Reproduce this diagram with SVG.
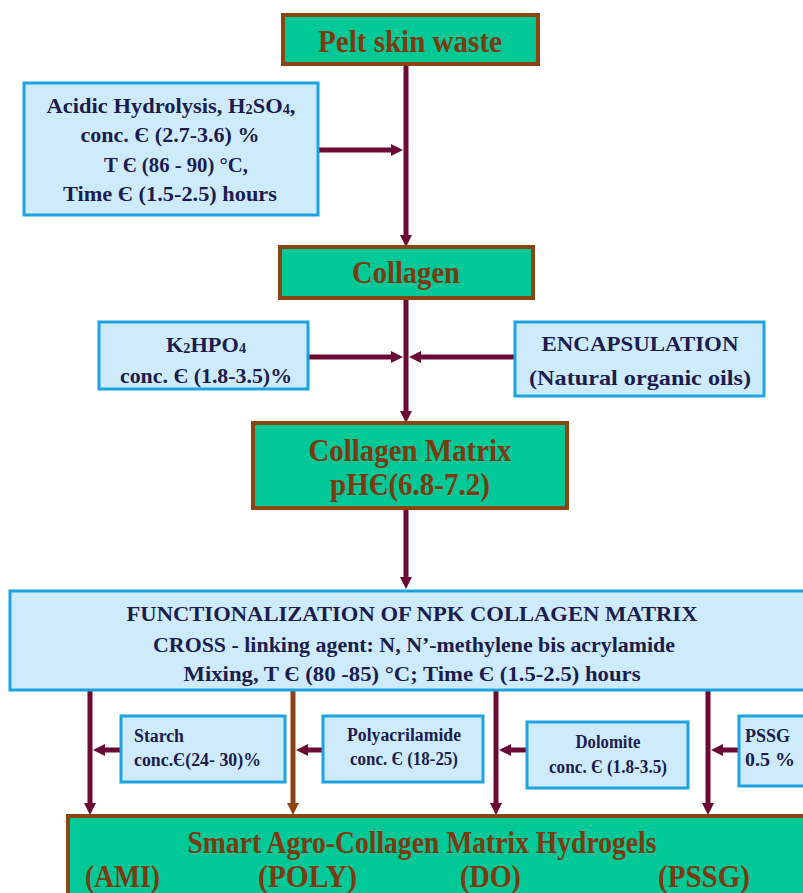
<svg xmlns="http://www.w3.org/2000/svg" width="803" height="893" viewBox="0 0 803 893">
<style>
text{font-family:"Liberation Serif","Times New Roman",serif;font-weight:bold}
.g rect{fill:#00c896;stroke:#8b4513;stroke-width:4}
.b rect{fill:#cdebfb;stroke:#1fa3e0;stroke-width:3}
.gt{fill:#7b3a10;font-size:31px}
.bt{fill:#1c1c4e;font-size:22px}
.st{fill:#1c1c4e;font-size:18px}
.m{text-anchor:middle}
.c{fill:none;stroke:#6b0a32;stroke-width:5}
.cb{fill:none;stroke:#8b4513;stroke-width:5}
</style>
<defs>
<marker id="am" viewBox="0 0 12 12" refX="4" refY="6" markerWidth="12" markerHeight="12" markerUnits="userSpaceOnUse" orient="auto"><path d="M0,0L12,6L0,12z" fill="#6b0a32"/></marker>
<marker id="ab" viewBox="0 0 12 12" refX="4" refY="6" markerWidth="12" markerHeight="12" markerUnits="userSpaceOnUse" orient="auto"><path d="M0,0L12,6L0,12z" fill="#8b4513"/></marker>
</defs>
<rect width="803" height="893" fill="#fff"/>
<g id="connectors">
<path class="c" d="M406,65V239" marker-end="url(#am)"/>
<path class="c" d="M318,150H395" marker-end="url(#am)"/>
<path class="c" d="M406,298V415" marker-end="url(#am)"/>
<path class="c" d="M308,357H395" marker-end="url(#am)"/>
<path class="c" d="M515,357H417" marker-end="url(#am)"/>
<path class="c" d="M406,508V581" marker-end="url(#am)"/>
<path class="c" d="M90,690V807" marker-end="url(#am)"/>
<path class="cb" d="M293,690V807" marker-end="url(#ab)"/>
<path class="c" d="M496,690V807" marker-end="url(#am)"/>
<path class="c" d="M708,690V807" marker-end="url(#am)"/>
<path class="c" d="M121,750H101" marker-end="url(#am)"/>
<path class="c" d="M323,750H304" marker-end="url(#am)"/>
<path class="c" d="M527,750H507" marker-end="url(#am)"/>
<path class="c" d="M739,750H719" marker-end="url(#am)"/>
</g>
<g id="pelt" class="g"><rect x="283" y="15" width="255" height="49"/><text class="gt m" x="410" y="52" textLength="184" lengthAdjust="spacingAndGlyphs">Pelt skin waste</text></g>
<g id="acidic" class="b"><rect x="24" y="83" width="294" height="132"/>
<text class="bt m" x="171" y="113" textLength="249" lengthAdjust="spacingAndGlyphs">Acidic Hydrolysis, H<tspan font-size="14" dy="1">2</tspan><tspan dy="-1">SO</tspan><tspan font-size="14" dy="1">4</tspan><tspan dy="-1">,</tspan></text>
<text class="bt m" x="170" y="142" textLength="179" lengthAdjust="spacingAndGlyphs">conc. Є (2.7-3.6) %</text>
<text class="bt m" x="176" y="172" textLength="144" lengthAdjust="spacingAndGlyphs">T Є (86 - 90) °C,</text>
<text class="bt m" x="170" y="201" textLength="214" lengthAdjust="spacingAndGlyphs">Time Є (1.5-2.5) hours</text></g>
<g id="collagen" class="g"><rect x="280" y="247" width="253" height="51"/><text class="gt m" x="406" y="283" textLength="108" lengthAdjust="spacingAndGlyphs">Collagen</text></g>
<g id="k2hpo4" class="b"><rect x="99" y="322" width="209" height="67"/>
<text class="bt m" x="206" y="352" textLength="80" lengthAdjust="spacingAndGlyphs">K<tspan font-size="14" dy="1">2</tspan><tspan dy="-1">HPO</tspan><tspan font-size="14" dy="1">4</tspan></text>
<text class="bt m" x="206" y="383" textLength="172" lengthAdjust="spacingAndGlyphs">conc. Є (1.8-3.5)%</text></g>
<g id="encapsulation" class="b"><rect x="515" y="322" width="249" height="74"/>
<text class="bt m" x="640" y="351" textLength="197" lengthAdjust="spacingAndGlyphs">ENCAPSULATION</text>
<text class="bt m" x="640" y="385" textLength="222" lengthAdjust="spacingAndGlyphs">(Natural organic oils)</text></g>
<g id="matrix" class="g"><rect x="253" y="423" width="314" height="85"/>
<text class="gt m" x="410" y="461" textLength="203" lengthAdjust="spacingAndGlyphs">Collagen Matrix</text>
<text class="gt m" x="410" y="495" textLength="160" lengthAdjust="spacingAndGlyphs">pHЄ(6.8-7.2)</text></g>
<g id="functionalization" class="b"><rect x="10" y="591" width="800" height="99"/>
<text class="bt m" x="412" y="621" font-size="23" textLength="571" lengthAdjust="spacingAndGlyphs">FUNCTIONALIZATION OF NPK COLLAGEN MATRIX</text>
<text class="bt m" x="414" y="652" font-size="23" textLength="522" lengthAdjust="spacingAndGlyphs">CROSS - linking agent: N, N’-methylene bis acrylamide</text>
<text class="bt m" x="412" y="681" font-size="23" textLength="457" lengthAdjust="spacingAndGlyphs">Mixing, T Є (80 -85) °C; Time Є (1.5-2.5) hours</text></g>
<g id="starch" class="b"><rect x="121" y="716" width="164" height="66"/>
<text class="st" x="134" y="742" textLength="50" lengthAdjust="spacingAndGlyphs">Starch</text>
<text class="st" x="134" y="766" textLength="127" lengthAdjust="spacingAndGlyphs">conc.Є(24- 30)%</text></g>
<g id="poly" class="b"><rect x="323" y="716" width="160" height="66"/>
<text class="st m" x="404" y="741" textLength="114" lengthAdjust="spacingAndGlyphs">Polyacrilamide</text>
<text class="st m" x="404" y="765" textLength="108" lengthAdjust="spacingAndGlyphs">conc. Є (18-25)</text></g>
<g id="dolomite" class="b"><rect x="527" y="722" width="161" height="66"/>
<text class="st m" x="608" y="748" textLength="65" lengthAdjust="spacingAndGlyphs">Dolomite</text>
<text class="st m" x="608" y="773" textLength="118" lengthAdjust="spacingAndGlyphs">conc. Є (1.8-3.5)</text></g>
<g id="pssg" class="b"><rect x="739" y="716" width="80" height="70"/>
<text class="st" x="745" y="742" textLength="45" lengthAdjust="spacingAndGlyphs">PSSG</text>
<text class="st" x="745" y="766" textLength="50" lengthAdjust="spacingAndGlyphs">0.5 %</text></g>
<g id="hydrogels" class="g"><rect x="68" y="816" width="750" height="90"/>
<text class="gt m" x="422" y="853" font-size="28" textLength="469" lengthAdjust="spacingAndGlyphs">Smart Agro-Collagen Matrix Hydrogels</text>
<text class="gt" x="85" y="887" font-size="28" textLength="75" lengthAdjust="spacingAndGlyphs">(AMI)</text>
<text class="gt" x="258" y="887" font-size="28" textLength="99" lengthAdjust="spacingAndGlyphs">(POLY)</text>
<text class="gt" x="460" y="887" font-size="28" textLength="61" lengthAdjust="spacingAndGlyphs">(DO)</text>
<text class="gt" x="658" y="887" font-size="28" textLength="92" lengthAdjust="spacingAndGlyphs">(PSSG)</text></g>
</svg>
